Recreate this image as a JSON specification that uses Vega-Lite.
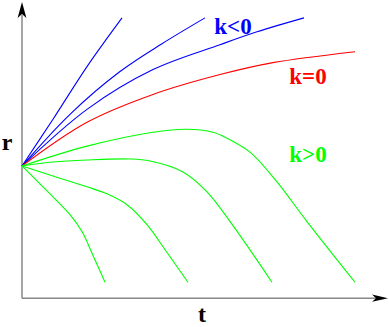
{
  "$schema": "https://vega.github.io/schema/vega-lite/v6.json",
  "autosize": {"type": "fit", "contains": "padding"},
  "width": 389,
  "height": 327,
  "padding": 0,
  "background": "white",
  "config": {"view": {"stroke": null}},
  "datasets": {
    "curves": [
      {"series": "b1", "group": "k<0", "t": 0, "r": 133},
      {"series": "b1", "group": "k<0", "t": 31, "r": 180},
      {"series": "b1", "group": "k<0", "t": 65, "r": 233},
      {"series": "b1", "group": "k<0", "t": 100, "r": 282},
      {"series": "b2", "group": "k<0", "t": 0, "r": 133},
      {"series": "b2", "group": "k<0", "t": 48, "r": 185},
      {"series": "b2", "group": "k<0", "t": 98, "r": 228},
      {"series": "b2", "group": "k<0", "t": 140, "r": 256},
      {"series": "b2", "group": "k<0", "t": 183, "r": 282},
      {"series": "b3", "group": "k<0", "t": 0, "r": 133},
      {"series": "b3", "group": "k<0", "t": 65, "r": 190},
      {"series": "b3", "group": "k<0", "t": 131, "r": 230},
      {"series": "b3", "group": "k<0", "t": 198, "r": 255},
      {"series": "b3", "group": "k<0", "t": 235, "r": 268},
      {"series": "b3", "group": "k<0", "t": 282, "r": 282},
      {"series": "red", "group": "k=0", "t": 0, "r": 133},
      {"series": "red", "group": "k=0", "t": 65, "r": 177},
      {"series": "red", "group": "k=0", "t": 131, "r": 205},
      {"series": "red", "group": "k=0", "t": 198, "r": 225},
      {"series": "red", "group": "k=0", "t": 251, "r": 237},
      {"series": "red", "group": "k=0", "t": 333, "r": 248},
      {"series": "g1", "group": "k>0", "t": 0, "r": 133},
      {"series": "g1", "group": "k>0", "t": 65, "r": 153},
      {"series": "g1", "group": "k>0", "t": 131, "r": 167},
      {"series": "g1", "group": "k>0", "t": 165, "r": 170},
      {"series": "g1", "group": "k>0", "t": 191, "r": 167},
      {"series": "g1", "group": "k>0", "t": 201, "r": 163},
      {"series": "g1", "group": "k>0", "t": 228, "r": 147},
      {"series": "g1", "group": "k>0", "t": 255, "r": 117},
      {"series": "g1", "group": "k>0", "t": 285, "r": 77},
      {"series": "g1", "group": "k>0", "t": 333, "r": 16},
      {"series": "g2", "group": "k>0", "t": 0, "r": 133},
      {"series": "g2", "group": "k>0", "t": 31, "r": 137},
      {"series": "g2", "group": "k>0", "t": 65, "r": 139},
      {"series": "g2", "group": "k>0", "t": 108, "r": 140},
      {"series": "g2", "group": "k>0", "t": 128, "r": 138},
      {"series": "g2", "group": "k>0", "t": 161, "r": 127},
      {"series": "g2", "group": "k>0", "t": 185, "r": 107},
      {"series": "g2", "group": "k>0", "t": 211, "r": 73},
      {"series": "g2", "group": "k>0", "t": 250, "r": 16},
      {"series": "g3", "group": "k>0", "t": 0, "r": 133},
      {"series": "g3", "group": "k>0", "t": 31, "r": 123},
      {"series": "g3", "group": "k>0", "t": 65, "r": 112},
      {"series": "g3", "group": "k>0", "t": 85, "r": 105},
      {"series": "g3", "group": "k>0", "t": 105, "r": 94},
      {"series": "g3", "group": "k>0", "t": 125, "r": 74},
      {"series": "g3", "group": "k>0", "t": 145, "r": 46},
      {"series": "g3", "group": "k>0", "t": 166, "r": 16},
      {"series": "g4", "group": "k>0", "t": 0, "r": 133},
      {"series": "g4", "group": "k>0", "t": 18, "r": 115},
      {"series": "g4", "group": "k>0", "t": 31, "r": 102},
      {"series": "g4", "group": "k>0", "t": 48, "r": 84},
      {"series": "g4", "group": "k>0", "t": 60, "r": 67},
      {"series": "g4", "group": "k>0", "t": 71, "r": 43},
      {"series": "g4", "group": "k>0", "t": 83, "r": 16}
    ],
    "axes": [
      {"t": 0, "r": 0, "t2": 0, "r2": 285},
      {"t": 0, "r": 0, "t2": 356, "r2": 0}
    ],
    "labels": [
      {"label": "k<0", "group": "k<0", "t": 211, "r": 273},
      {"label": "k=0", "group": "k=0", "t": 286, "r": 223},
      {"label": "k>0", "group": "k>0", "t": 286, "r": 144}
    ],
    "axisLabels": [
      {"label": "r", "t": -15, "r": 156},
      {"label": "t", "t": 180, "r": -17}
    ]
  },
  "encoding": {
    "x": {"field": "t", "type": "quantitative", "scale": {"domain": [-22, 367], "nice": false, "zero": false}, "axis": null},
    "y": {"field": "r", "type": "quantitative", "scale": {"domain": [-27, 300], "nice": false, "zero": false}, "axis": null}
  },
  "layer": [
    {
      "data": {"name": "axes"},
      "mark": {"type": "rule", "color": "#888888", "strokeWidth": 1.5},
      "encoding": {
        "x2": {"field": "t2"},
        "y2": {"field": "r2"}
      }
    },
    {
      "data": {"values": [{"t": 0, "r": 290}]},
      "mark": {"type": "point", "shape": "M0,-1L0.55,1L0,0.5L-0.55,1Z", "filled": true, "color": "black", "opacity": 1, "size": 256}
    },
    {
      "data": {"values": [{"t": 358, "r": 0}]},
      "mark": {"type": "point", "shape": "M1,0L-1,-0.45L-0.5,0L-1,0.45Z", "filled": true, "color": "black", "opacity": 1, "size": 256}
    },
    {
      "data": {"name": "curves"},
      "mark": {"type": "line", "interpolate": "catmull-rom", "strokeWidth": 1.1},
      "encoding": {
        "detail": {"field": "series"},
        "color": {"field": "group", "type": "nominal", "scale": {"domain": ["k<0", "k=0", "k>0"], "range": ["#0000ff", "#ff0000", "#00ff00"]}, "legend": null}
      }
    },
    {
      "data": {"name": "labels"},
      "mark": {"type": "text", "font": "Liberation Serif", "fontWeight": "bold", "fontSize": 23, "align": "center", "baseline": "middle"},
      "encoding": {
        "text": {"field": "label"},
        "color": {"field": "group", "type": "nominal", "scale": {"domain": ["k<0", "k=0", "k>0"], "range": ["#0000ff", "#ff0000", "#00ff00"]}, "legend": null}
      }
    },
    {
      "data": {"name": "axisLabels"},
      "mark": {"type": "text", "font": "Liberation Serif", "fontWeight": "bold", "fontSize": 24, "align": "center", "baseline": "middle", "color": "black"},
      "encoding": {
        "text": {"field": "label"}
      }
    }
  ]
}
